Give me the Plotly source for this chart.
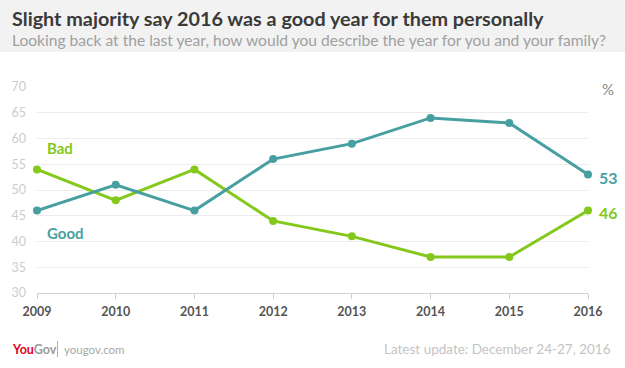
import plotly.graph_objects as go

years = [2009, 2010, 2011, 2012, 2013, 2014, 2015, 2016]
good = [46, 51, 46, 56, 59, 64, 63, 53]
bad = [54, 48, 54, 44, 41, 37, 37, 46]
y_ticks = [30, 35, 40, 45, 50, 55, 60, 65, 70]

TEAL = "#479fa1"
GREEN = "#84c81c"
FONT = "Lato, 'Open Sans', sans-serif"

W, H = 625, 368
L, R, T, B = 37, 37, 87, 75
PW, PH = W - L - R, H - T - B


def px(x):
    return (x - L) / PW


def py(y):
    return (H - B - y) / PH


fig = go.Figure()
fig.add_trace(go.Scatter(x=years, y=bad, mode="lines+markers", name="Bad",
                         line=dict(color=GREEN, width=3), marker=dict(size=8, color=GREEN),
                         cliponaxis=False, hoverinfo="x+y"))
fig.add_trace(go.Scatter(x=years, y=good, mode="lines+markers", name="Good",
                         line=dict(color=TEAL, width=3), marker=dict(size=8, color=TEAL),
                         cliponaxis=False, hoverinfo="x+y"))

fig.update_layout(
    width=W, height=H,
    margin=dict(l=L, r=R, t=T, b=B, pad=0),
    paper_bgcolor="white", plot_bgcolor="white",
    showlegend=False,
    font=dict(family=FONT),
    xaxis=dict(range=[2009, 2016], tickvals=years, ticktext=[str(y) for y in years],
               showgrid=False, zeroline=False, showline=True, linecolor="#d0d0d0", linewidth=1,
               ticks="outside", ticklen=5, tickcolor="#d0d0d0", ticklabelstandoff=2,
               tickfont=dict(family=FONT, size=12.5, color="#555555", weight="bold")),
    yaxis=dict(range=[30, 70], tickvals=y_ticks, showgrid=True, gridcolor="#ececec", gridwidth=1,
               zeroline=False, showline=False, ticks="", ticklabelstandoff=10,
               tickfont=dict(family=FONT, size=12.5, color="#cccccc")),
)

fig.add_shape(type="rect", xref="paper", yref="paper", x0=px(0), x1=px(W), y0=py(52), y1=py(0),
              fillcolor="#f2f2f2", line=dict(width=0), layer="below")
fig.add_shape(type="line", xref="paper", yref="paper", x0=px(57.5), x1=px(57.5), y0=py(341), y1=py(357),
              line=dict(color="#b0b0b0", width=1))

ann = [
    dict(text="<b>Slight majority say 2016 was a good year for them personally</b>", x=10, y=18,
         size=19.8, color="#3a3a3a", xanchor="left"),
    dict(text="Looking back at the last year, how would you describe the year for you and your family?",
         x=10, y=40, size=15.6, color="#a0a0a0", xanchor="left"),
    dict(text="<b>Bad</b>", x=45, y=148, size=15, color=GREEN, xanchor="left"),
    dict(text="<b>Good</b>", x=45, y=233, size=15, color=TEAL, xanchor="left"),
    dict(text="<b>53</b>", x=597, y=177, size=16, color=TEAL, xanchor="left"),
    dict(text="<b>46</b>", x=597, y=212, size=16, color=GREEN, xanchor="left"),
    dict(text="%", x=600, y=89, size=15, color="#888888", xanchor="left"),
    dict(text="<b><span style='color:#e2001a'>You</span><span style='color:#9a9a9a'>Gov</span></b>",
         x=10, y=349, size=12.5, color="#9a9a9a", xanchor="left"),
    dict(text="yougov.com", x=62, y=349, size=11.5, color="#a8a8a8", xanchor="left"),
    dict(text="Latest update: December 24-27, 2016", x=613, y=349, size=13.5, color="#c4c4c4",
         xanchor="right"),
]
for a in ann:
    fig.add_annotation(text=a["text"], xref="paper", yref="paper", x=px(a["x"]), y=py(a["y"]),
                       xanchor=a["xanchor"], yanchor="middle", showarrow=False,
                       font=dict(family=FONT, size=a["size"], color=a["color"]))

fig.write_html("out.html", config={"displayModeBar": False},
               post_script="document.body.style.margin='0';document.body.style.overflow='hidden';")
